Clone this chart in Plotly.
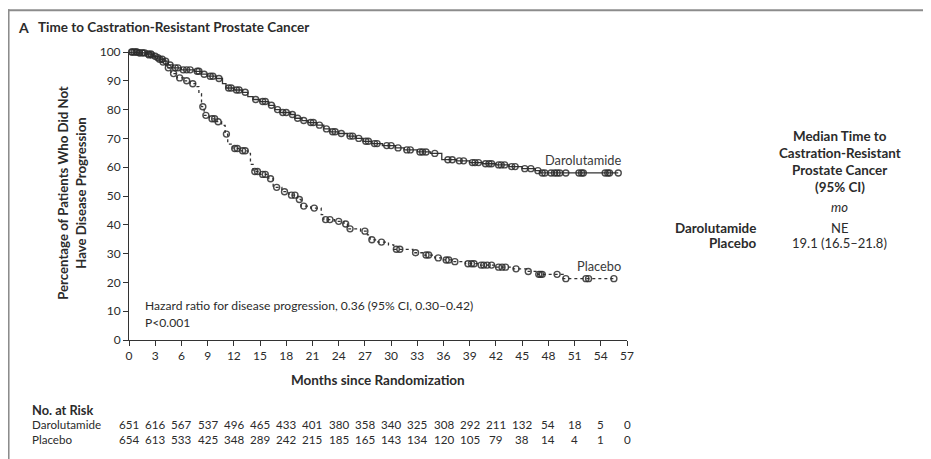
import plotly.graph_objects as go

# ---------------- data ----------------
# Kaplan-Meier step points (month, % free of progression)
daro_t = [0, 1.0, 2.0, 2.8, 3.3, 4.0, 4.5, 5.0, 6.0, 7.5, 8.3, 9.0, 10.0, 10.7, 11.1, 12.0, 13.0,
          13.6, 14.2, 15.0, 16.0, 16.7, 17.3, 18.5, 19.0, 19.8, 20.5, 21.5, 22.3, 23.0, 24.0, 25.0,
          26.0, 26.8, 27.8, 29.0, 30.5, 31.5, 33.0, 34.5, 35.8, 37.5, 39.0, 40.5, 42.0, 43.5, 45.0,
          46.5, 47.0, 56.0]
daro_s = [100, 99.7, 99.3, 98.5, 97.5, 96.8, 95.5, 94.5, 93.8, 93.3, 92.3, 91.6, 90.8, 89.0, 87.5, 86.8, 86.0,
          84.5, 83.5, 82.8, 81.5, 80.0, 79.0, 78.3, 77.0, 76.2, 75.5, 74.6, 73.3, 72.3, 71.7, 70.8,
          70.0, 69.0, 68.2, 67.5, 66.7, 66.0, 65.3, 64.8, 62.6, 62.2, 61.6, 61.2, 60.8, 60.2, 59.5,
          58.8, 58.0, 58.0]

plac_t = [0, 1.0, 2.0, 3.0, 3.6, 4.2, 4.8, 5.5, 6.3, 7.0, 7.6, 8.0, 8.3, 8.6, 9.2, 10.0, 10.6, 11.0,
          11.3, 11.9, 12.7, 13.6, 13.9, 14.2, 15.0, 16.0, 16.5, 17.5, 18.3, 19.3, 19.7, 20.8, 22.0,
          22.3, 23.5, 24.6, 25.0, 26.5, 27.3, 27.6, 28.5, 29.7, 30.3, 32.5, 33.6, 35.0, 36.0, 37.0,
          38.5, 40.0, 42.0, 44.0, 45.5, 46.8, 49.7, 55.5]
plac_s = [100, 99.7, 99.0, 98.0, 96.5, 94.5, 92.5, 91.0, 90.0, 89.0, 88.0, 85.5, 81.0, 78.0, 76.8, 75.8, 74.5, 71.5,
          68.0, 66.5, 65.7, 64.8, 61.0, 58.5, 57.5, 56.0, 53.0, 51.5, 50.3, 48.8, 46.5, 45.8, 43.5,
          41.8, 41.2, 40.3, 38.6, 37.8, 36.5, 34.8, 34.0, 33.0, 31.5, 30.3, 29.5, 28.5, 27.8, 27.2,
          26.5, 26.0, 25.3, 24.7, 23.8, 22.8, 21.3, 21.3]

# censored observations (month, %)
daro_cens_t = [0.3, 0.6, 0.9, 1.2, 1.5, 1.8, 2.2, 2.5, 3.0, 3.5, 3.8, 4.2, 4.7, 5.3, 5.6, 6.2, 6.6, 7.0,
               7.8, 8.0, 8.6, 9.3, 9.6, 10.3, 11.4, 11.7, 12.3, 12.6, 13.3, 14.5, 15.3, 15.6, 16.3, 17.0,
               17.6, 18.0, 18.7, 19.3, 20.0, 20.8, 21.1, 21.8, 22.6, 23.3, 23.6, 24.3, 25.3, 25.6, 26.3,
               27.1, 27.4, 28.1, 28.4, 29.5, 30.0, 30.8, 31.8, 32.2, 33.3, 33.6, 34.0, 35.0, 36.5, 37.0,
               37.8, 38.3, 39.3, 39.6, 40.0, 40.8, 41.2, 41.5, 42.3, 42.6, 43.0, 43.8, 44.2, 45.3, 46.0,
               46.8, 47.3, 47.6, 48.3, 48.7, 49.0, 49.3, 50.0, 51.5, 51.8, 52.0, 54.5, 54.8, 55.0, 56.0]
daro_cens_s = [100, 100, 100, 99.7, 99.7, 99.7, 99.3, 99.3, 98.5, 97.5, 97.5, 96.8, 95.5, 94.5, 94.5, 93.8, 93.8, 93.8,
               93.3, 93.3, 92.3, 91.6, 91.6, 90.8, 87.5, 87.5, 86.8, 86.8, 86.0, 83.5, 82.8, 82.8, 81.5, 80.0,
               79.0, 79.0, 78.3, 77.0, 76.2, 75.5, 75.5, 74.6, 73.3, 72.3, 72.3, 71.7, 70.8, 70.8, 70.0,
               69.0, 69.0, 68.2, 68.2, 67.5, 67.5, 66.7, 66.0, 66.0, 65.3, 65.3, 65.3, 64.8, 62.6, 62.6,
               62.2, 62.2, 61.6, 61.6, 61.6, 61.2, 61.2, 61.2, 60.8, 60.8, 60.8, 60.2, 60.2, 59.5, 59.5,
               58.8, 58.0, 58.0, 58.0, 58.0, 58.0, 58.0, 58.0, 58.0, 58.0, 58.0, 58.0, 58.0, 58.0, 58.0]

plac_cens_t = [0.4, 0.8, 1.2, 1.6, 2.3, 2.6, 3.3, 3.9, 4.5, 5.1, 5.8, 6.6, 7.3, 8.45, 8.8, 9.5, 9.8, 10.2,
               11.15, 12.1, 12.4, 13.0, 13.3, 14.4, 14.7, 15.3, 15.6, 16.2, 16.9, 17.8, 18.6, 19.0, 19.5,
               20.0, 21.2, 22.5, 23.0, 24.0, 24.8, 25.3, 27.0, 27.8, 28.9, 30.6, 31.0, 32.8, 34.0, 34.3,
               35.4, 36.3, 36.6, 37.3, 38.8, 39.2, 39.5, 40.3, 40.6, 41.0, 41.5, 42.3, 42.7, 43.1, 44.3,
               45.7, 46.9, 47.1, 47.3, 49.0, 50.0, 52.3, 52.6, 55.5]
plac_cens_s = [100, 100, 99.7, 99.7, 99.0, 99.0, 98.0, 96.5, 94.5, 92.5, 91.0, 90.0, 89.0, 81.0, 78.0, 76.8, 76.8, 75.8,
               71.5, 66.5, 66.5, 65.7, 65.7, 58.5, 58.5, 57.5, 57.5, 56.0, 53.0, 51.5, 50.3, 50.3, 48.8,
               46.5, 45.8, 41.8, 41.8, 41.2, 40.3, 38.6, 37.8, 34.8, 34.0, 31.5, 31.5, 30.3, 29.5, 29.5,
               28.5, 27.8, 27.8, 27.2, 26.5, 26.5, 26.5, 26.0, 26.0, 26.0, 26.0, 25.3, 25.3, 25.3, 24.7,
               23.8, 22.8, 22.8, 22.8, 22.8, 21.3, 21.3, 21.3, 21.3]

risk_months = [0, 3, 6, 9, 12, 15, 18, 21, 24, 27, 30, 33, 36, 39, 42, 45, 48, 51, 54, 57]
risk_daro = [651, 616, 567, 537, 496, 465, 433, 401, 380, 358, 340, 325, 308, 292, 211, 132, 54, 18, 5, 0]
risk_plac = [654, 613, 533, 425, 348, 289, 242, 215, 185, 165, 143, 134, 120, 105, 79, 38, 14, 4, 1, 0]

x_ticks = list(range(0, 58, 3))
y_ticks = list(range(0, 101, 10))

# ---------------- layout geometry (page pixel coords) ----------------
OFF = 8                      # default page body margin
PAGE_W, PAGE_H = 931, 459
X0, X1 = 129.3, 626.7        # plot area in page pixels
Y0, Y1 = 51.7, 340.0
W, H = PAGE_W - OFF, PAGE_H - OFF
L, T = X0 - OFF, Y0 - OFF
R, B = PAGE_W - X1, PAGE_H - Y1
PW, PH = X1 - X0, Y1 - Y0


def px(x):
    return (x - X0) / PW


def py(y):
    return (Y1 - y) / PH


FONT = "Lato"
TXT = "#2b2b2b"
LINE = "#333333"

fig = go.Figure()

fig.add_trace(go.Scatter(x=daro_t, y=daro_s, mode="lines", line=dict(color=LINE, width=1.3, shape="hv"),
                         hoverinfo="skip", showlegend=False, cliponaxis=False))
fig.add_trace(go.Scatter(x=plac_t, y=plac_s, mode="lines", line=dict(color=LINE, width=1.3, shape="hv", dash="dot"),
                         hoverinfo="skip", showlegend=False, cliponaxis=False))
fig.add_trace(go.Scatter(x=daro_cens_t, y=daro_cens_s, mode="markers",
                         marker=dict(symbol="circle-open", size=6, color="rgba(45,45,45,0.85)", line=dict(width=1.4)),
                         showlegend=False, cliponaxis=False))
fig.add_trace(go.Scatter(x=plac_cens_t, y=plac_cens_s, mode="markers",
                         marker=dict(symbol="circle-open", size=6, color="rgba(45,45,45,0.85)", line=dict(width=1.4)),
                         showlegend=False, cliponaxis=False))

ann = []


def add(text, x, y, size=13, bold=False, xanchor="center", italic=False, color=TXT):
    t = text
    if bold:
        t = "<b>" + t + "</b>"
    if italic:
        t = "<i>" + t + "</i>"
    ann.append(dict(text=t, x=px(x), y=py(y), xref="paper", yref="paper", showarrow=False,
                    xanchor=xanchor, yanchor="middle", font=dict(family=FONT, size=size, color=color)))


# title
add("A", 16, 27, size=14, bold=True, xanchor="left")
add("Time to Castration-Resistant Prostate Cancer", 36.5, 27, size=13.5, bold=True, xanchor="left")

# axis titles
add("Months since Randomization", 378, 380, size=13.5, bold=True)
ann.append(dict(text="<b>Percentage of Patients Who Did Not<br>Have Disease Progression</b>",
                x=px(72), y=py(193), xref="paper", yref="paper", showarrow=False, textangle=-90,
                xanchor="center", yanchor="middle", align="center",
                font=dict(family=FONT, size=13.2, color=TXT)))

# curve labels
add("Darolutamide", 623, 160, size=12.8, xanchor="right", color="#3a3a3a")
add("Placebo", 623, 266, size=12.8, xanchor="right", color="#3a3a3a")

# hazard ratio
add("Hazard ratio for disease progression, 0.36 (95% CI, 0.30\u20130.42)", 143, 305, size=12.1, xanchor="left")
add("P<0.001", 143, 322, size=12.1, xanchor="left")

# median table
add("Median Time to", 839, 136, size=13.4, bold=True)
add("Castration-Resistant", 839, 153, size=13.4, bold=True)
add("Prostate Cancer", 839, 170, size=13.4, bold=True)
add("(95% CI)", 839, 187, size=13.4, bold=True)
add("mo", 839, 207, size=13, italic=True)
add("Darolutamide", 758, 228, size=13.4, bold=True, xanchor="right")
add("Placebo", 758, 243, size=13.4, bold=True, xanchor="right")
add("NE", 839, 228, size=13)
add("19.1 (16.5\u201321.8)", 839, 243, size=13)

# number at risk
add("No. at Risk", 30, 410, size=12.8, bold=True, xanchor="left")
add("Darolutamide", 30, 425, size=11.6, xanchor="left")
add("Placebo", 30, 440, size=11.6, xanchor="left")
for m, a, b in zip(risk_months, risk_daro, risk_plac):
    for val, yy in ((a, 425), (b, 440)):
        ann.append(dict(text=str(val), x=m, y=py(yy), xref="x", yref="paper", showarrow=False,
                        xanchor="center", yanchor="middle", font=dict(family=FONT, size=11.6, color=TXT)))

shapes = [
    dict(type="line", xref="paper", yref="paper", x0=px(8), x1=px(931), y0=py(10), y1=py(10),
         line=dict(color="#8c8c8c", width=2)),
    dict(type="line", xref="paper", yref="paper", x0=px(9), x1=px(9), y0=py(9), y1=py(459),
         line=dict(color="#8c8c8c", width=2)),
]

fig.update_layout(
    width=W, height=H, margin=dict(l=L, r=R, t=T, b=B, pad=0),
    paper_bgcolor="white", plot_bgcolor="white",
    annotations=ann, shapes=shapes, showlegend=False,
    xaxis=dict(range=[0, 57], tickvals=x_ticks, ticks="outside", ticklen=5, tickcolor=LINE,
               showline=True, linecolor=LINE, linewidth=1, showgrid=False, zeroline=False,
               tickfont=dict(family=FONT, size=12, color=TXT), fixedrange=True),
    yaxis=dict(range=[0, 100], tickvals=y_ticks, ticks="outside", ticklen=5, tickcolor=LINE,
               showline=True, linecolor=LINE, linewidth=1, showgrid=False, zeroline=False,
               tickfont=dict(family=FONT, size=12, color=TXT), fixedrange=True),
)

fig.write_html("out.html")
